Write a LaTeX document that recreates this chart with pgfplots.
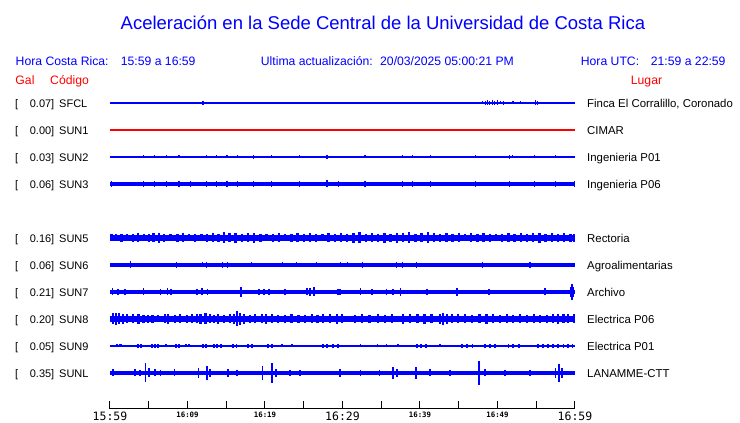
\documentclass[border=0pt]{standalone}
\usepackage{fontspec}
\setmainfont{Liberation Sans}
\newfontfamily\dvmono{DejaVu Sans Mono}
\usepackage{pgfplots}
\pgfplotsset{compat=1.18}
\usepackage{pgfplotstable}
\definecolor{tblue}{RGB}{0,0,255}
\definecolor{tred}{RGB}{255,0,0}

% spike tables: t = minutes after 15:59, a = half amplitude (px)
\pgfplotstableread{
t a
12.0 2.0
16.3 1.2
39.9 1.2
47.2 1.0
48.1 1.5
48.4 2.0
48.7 2.5
49.0 2.0
49.3 2.5
49.6 2.0
50.0 2.5
50.4 1.5
50.8 2.0
52.0 1.5
53.0 1.5
54.9 2.5
55.2 2.0
56.8 1.0
}\sfcl
\pgfplotstableread{
t a
4.3 1.5
5.8 1.5
7.3 1.5
8.9 1.5
12.5 1.5
13.7 1.5
15.1 1.5
16.5 1.5
18.5 2.0
20.8 1.5
24.5 1.5
28.0 2.0
32.9 1.5
37.7 1.5
39.0 1.5
41.3 1.5
47.2 1.5
51.5 2.0
51.9 1.5
54.8 1.5
57.5 1.5
58.5 1.0
}\sunB
\pgfplotstableread{
t a
0.2 3.0
4.3 3.0
5.8 3.0
7.3 3.0
8.9 3.0
10.4 3.0
12.5 3.0
13.7 3.0
15.1 3.0
16.5 3.0
18.5 3.0
20.8 3.0
24.5 3.0
28.0 3.5
29.5 3.0
32.9 3.0
37.7 3.0
39.0 3.0
41.3 3.0
47.2 3.0
51.5 3.0
54.8 3.0
57.5 3.0
59.9 3.0
}\sunC
\pgfplotstableread{
t a
0.2 3.5
0.8 3.5
1.5 4.0
2.2 3.5
3.0 4.0
3.6 4.5
4.4 3.5
5.0 4.0
5.6 4.5
6.3 5.0
7.0 4.0
7.8 3.5
8.7 4.0
9.4 4.5
10.2 3.5
11.0 4.0
11.8 3.5
12.5 4.0
13.3 4.5
14.0 4.0
14.7 5.5
15.4 4.5
16.2 5.0
17.0 4.0
17.8 4.5
18.6 5.0
19.4 4.0
20.2 3.5
21.0 4.0
21.8 4.5
22.6 3.5
23.4 4.0
24.2 4.5
25.0 4.0
25.8 4.5
26.6 4.0
27.4 3.5
28.2 4.5
29.0 4.0
29.8 4.5
30.6 4.0
31.4 5.0
32.2 5.5
33.0 4.0
33.8 4.5
34.6 4.0
35.4 5.0
36.2 4.0
37.0 5.0
37.8 4.5
38.6 5.5
39.4 4.0
40.2 4.5
41.0 5.5
41.8 4.5
42.6 4.0
43.4 4.5
44.2 4.0
45.0 4.5
45.8 3.5
46.6 4.5
47.4 4.0
48.2 4.5
49.0 4.0
49.8 3.5
50.6 4.0
51.4 4.5
52.2 4.0
53.0 4.5
53.8 4.0
54.6 4.5
55.4 5.0
56.2 4.0
57.0 4.5
57.8 4.0
58.6 4.5
59.4 4.0
59.9 4.0
}\sunE
\pgfplotstableread{
t a
2.6 3.5
8.6 3.0
11.9 2.5
12.5 3.0
14.5 3.0
15.2 3.0
18.3 2.5
22.3 2.5
24.1 2.5
26.7 2.5
29.7 2.5
30.7 2.5
32.6 3.0
37.0 3.0
37.7 3.0
39.6 3.0
48.1 3.0
54.2 3.0
}\sunF
\pgfplotstableread{
t a
0.3 3.5
1.0 3.0
1.9 3.0
4.3 3.5
6.5 3.0
7.4 3.5
7.9 3.0
11.2 3.0
11.9 3.5
12.6 3.0
16.9 5.0
19.2 3.0
19.9 3.0
20.5 3.0
22.6 3.0
25.4 3.5
25.8 4.0
26.3 4.5
29.4 3.0
29.7 3.0
32.3 3.5
33.8 3.0
35.7 3.0
36.5 3.0
37.5 4.0
40.9 3.0
44.8 4.0
48.9 3.0
56.1 3.5
59.4 5.0
59.6 8.0
59.8 5.0
}\sunG
\pgfplotstableread{
t a
0.4 5.5
0.8 6.0
1.2 5.5
1.7 5.0
2.2 4.5
3.0 4.5
3.7 5.0
4.3 4.0
4.9 4.0
5.5 4.0
6.2 3.5
7.1 4.5
7.5 5.0
8.4 4.0
9.0 4.5
9.9 4.0
10.6 4.5
11.2 4.5
11.7 5.0
12.3 5.5
12.9 4.5
13.4 4.0
13.9 5.0
14.7 4.0
15.5 4.5
16.0 5.0
16.4 7.5
16.8 6.0
17.3 5.0
18.1 4.0
18.7 4.5
19.6 4.5
20.1 5.0
20.9 4.5
21.7 4.0
22.6 4.0
23.4 4.5
24.3 4.0
25.2 4.0
26.1 4.5
26.8 4.0
27.5 4.5
28.4 4.5
29.3 5.0
29.9 4.5
31.6 4.0
32.5 4.5
33.5 4.0
34.6 4.5
35.5 4.0
36.4 4.5
37.8 5.0
38.7 4.5
39.7 4.5
40.6 5.0
41.5 4.5
42.6 5.0
43.0 6.0
43.5 5.0
44.1 4.5
44.9 4.5
45.8 4.5
46.7 4.0
47.7 4.5
48.6 5.0
49.4 4.5
50.3 4.0
51.2 4.5
52.0 4.0
52.9 4.5
53.8 4.0
54.7 4.5
55.5 4.0
56.4 4.0
57.2 4.5
57.8 5.0
58.5 4.5
59.1 4.5
59.9 4.5
}\sunH
\pgfplotstableread{
t a
0.9 1.5
1.3 1.5
1.5 1.5
3.6 2.0
4.0 2.0
5.4 2.0
5.8 2.0
6.2 2.0
7.2 1.5
8.5 2.0
8.9 2.0
9.8 1.5
10.2 1.5
12.0 2.0
12.4 2.0
13.4 2.0
13.8 2.0
14.3 2.0
15.9 2.0
16.3 2.0
17.8 2.0
18.3 2.0
20.4 2.0
20.9 2.0
22.2 1.5
23.5 1.5
27.5 2.0
28.0 2.0
28.8 2.0
29.4 2.0
32.3 1.5
34.5 1.5
35.7 1.5
37.2 1.5
39.6 2.0
40.1 2.0
40.8 2.0
42.6 1.5
45.4 2.0
46.1 2.0
46.8 2.0
48.4 2.0
49.0 2.0
49.7 2.0
51.4 2.0
52.0 2.0
52.8 2.0
55.2 2.0
55.9 2.0
56.5 2.0
57.2 2.0
57.8 2.0
58.5 2.0
59.1 2.0
59.7 2.0
}\sunI
\pgfplotstableread{
t a
0.4 3.5
3.2 3.5
3.9 3.0
4.6 9.5
5.0 4.5
5.8 3.5
6.5 3.0
8.3 3.5
11.4 5.0
12.5 7.0
12.9 4.0
15.2 4.0
16.4 3.0
19.7 7.0
20.9 10.0
21.4 4.0
23.2 3.0
24.5 3.0
29.7 4.0
32.3 3.0
34.8 3.0
36.5 6.0
37.0 4.0
39.5 6.0
41.3 3.5
43.9 3.0
47.6 12.0
48.4 3.5
51.0 3.0
54.2 3.0
57.5 5.0
57.9 9.0
58.3 5.0
}\sunL

\pgfplotsset{
  spikes/.style={draw=none, mark=none, forget plot,
    error bars/.cd, y dir=both, y explicit, error mark=none,
    error bar style={draw=tblue, line width=1.6pt}},
  widespikes/.style={draw=none, mark=none, forget plot,
    error bars/.cd, y dir=both, y explicit, error mark=none,
    error bar style={draw=tblue, line width=2.4pt}},
  thinspikes/.style={draw=none, mark=none, forget plot,
    error bars/.cd, y dir=both, y explicit, error mark=none,
    error bar style={draw=tblue, line width=1.1pt}},
}
\newcommand{\tbig}{\dvmono\fontsize{11.5}{12}\selectfont}
\newcommand{\tsmall}{\dvmono\bfseries\fontsize{7.4}{8}\selectfont}

\begin{document}
\begin{tikzpicture}
\useasboundingbox (-110pt,-14pt) rectangle (630pt,409pt);
\fill[white] (-110pt,-14pt) rectangle (630pt,409pt);
\begin{axis}[
  at={(0,0)}, anchor=south west, scale only axis,
  width=465pt, height=409pt,
  xmin=0, xmax=60, ymin=14, ymax=423,
  axis x line=bottom, axis y line=none,
  axis line style={-, line width=1pt, black},
  x axis line style={-},
  xtick={0,5,...,60},
  xticklabels={{\tbig 15:59},{},{\tsmall 16:09},{},{\tsmall 16:19},{},{\tbig 16:29},{},{\tsmall 16:39},{},{\tsmall 16:49},{},{\tbig 16:59}},
  xtick align=inside, major tick length=8pt,
  tick style={black, line width=1pt},
  minor tick num=0,
  xticklabel style={inner sep=0pt, anchor=north, yshift=-3pt},
  clip=false,
]
% baselines
\addplot[tblue, line width=1.1pt] coordinates {(0,320) (60,320)};
\addplot[tred, line width=1.3pt] coordinates {(0,293) (60,293)};
\addplot[tblue, line width=1.1pt] coordinates {(0,266) (60,266)};
\addplot[tblue, line width=4.5pt] coordinates {(0,239) (60,239)};
\addplot[tblue, line width=5.5pt] coordinates {(0,185) (60,185)};
\addplot[tblue, line width=3.5pt] coordinates {(0,158) (60,158)};
\addplot[tblue, line width=3.5pt] coordinates {(0,131) (60,131)};
\addplot[tblue, line width=5.5pt] coordinates {(0,104) (60,104)};
\addplot[tblue, line width=1.5pt] coordinates {(0,77) (60,77)};
\addplot[tblue, line width=4.5pt] coordinates {(0,50) (60,50)};
% spikes
\addplot[thinspikes] table[x=t, y expr=320, y error=a] {\sfcl};
\addplot[thinspikes] table[x=t, y expr=266, y error=a] {\sunB};
\addplot[thinspikes] table[x=t, y expr=239, y error=a] {\sunC};
\addplot[widespikes] table[x=t, y expr=185, y error=a] {\sunE};
\addplot[thinspikes] table[x=t, y expr=158, y error=a] {\sunF};
\addplot[spikes] table[x=t, y expr=131, y error=a] {\sunG};
\addplot[widespikes] table[x=t, y expr=104, y error=a] {\sunH};
\addplot[spikes] table[x=t, y expr=77, y error=a] {\sunI};
\addplot[spikes] table[x=t, y expr=50, y error=a] {\sunL};
\end{axis}

\begin{scope}[shift={(-110pt,409pt)}, x=1pt, y=-1pt]
\node[anchor=base west, inner sep=0pt, text=tblue, font=\fontsize{18.5}{20}\selectfont] at (120.5,29.3) {Aceleración en la Sede Central de la Universidad de Costa Rica};
\begin{scope}[every node/.style={anchor=base west, inner sep=0pt, font=\fontsize{12.2}{14}\selectfont}]
\node[text=tblue] at (15.5,66) {Hora Costa Rica:};
\node[text=tblue] at (120.7,66) {15:59 a 16:59};
\node[text=tblue] at (260.7,66) {Ultima actualización:};
\node[text=tblue] at (380,66) {20/03/2025 05:00:21 PM};
\node[text=tblue] at (580.7,66) {Hora UTC:};
\node[text=tblue] at (650.7,66) {21:59 a 22:59};
\node[text=tred] at (15.3,85) {Gal};
\node[text=tred] at (50,85) {Código};
\node[text=tred] at (630.7,85) {Lugar};
\end{scope}
\foreach \yy/\vv/\cc/\ll in {103/0.07/SFCL/{Finca El Corralillo, Coronado},
  130/0.00/SUN1/CIMAR, 157/0.03/SUN2/Ingenieria P01, 184/0.06/SUN3/Ingenieria P06,
  238/0.16/SUN5/Rectoria, 265/0.06/SUN6/Agroalimentarias, 292/0.21/SUN7/Archivo,
  319/0.20/SUN8/Electrica P06, 346/0.05/SUN9/Electrica P01, 373/0.35/SUNL/LANAMME-CTT}{
  \node[anchor=base west, inner sep=0pt, font=\fontsize{11}{13}\selectfont] at (15,\yy+4.3) {[};
  \node[anchor=base east, inner sep=0pt, font=\fontsize{11}{13}\selectfont] at (54.5,\yy+4.3) {\vv]};
  \node[anchor=base west, inner sep=0pt, font=\fontsize{11}{13}\selectfont] at (59,\yy+4.3) {\cc};
  \node[anchor=base west, inner sep=0pt, font=\fontsize{11.4}{13}\selectfont] at (587,\yy+4.3) {\ll};
}
\end{scope}
\end{tikzpicture}
\end{document}
